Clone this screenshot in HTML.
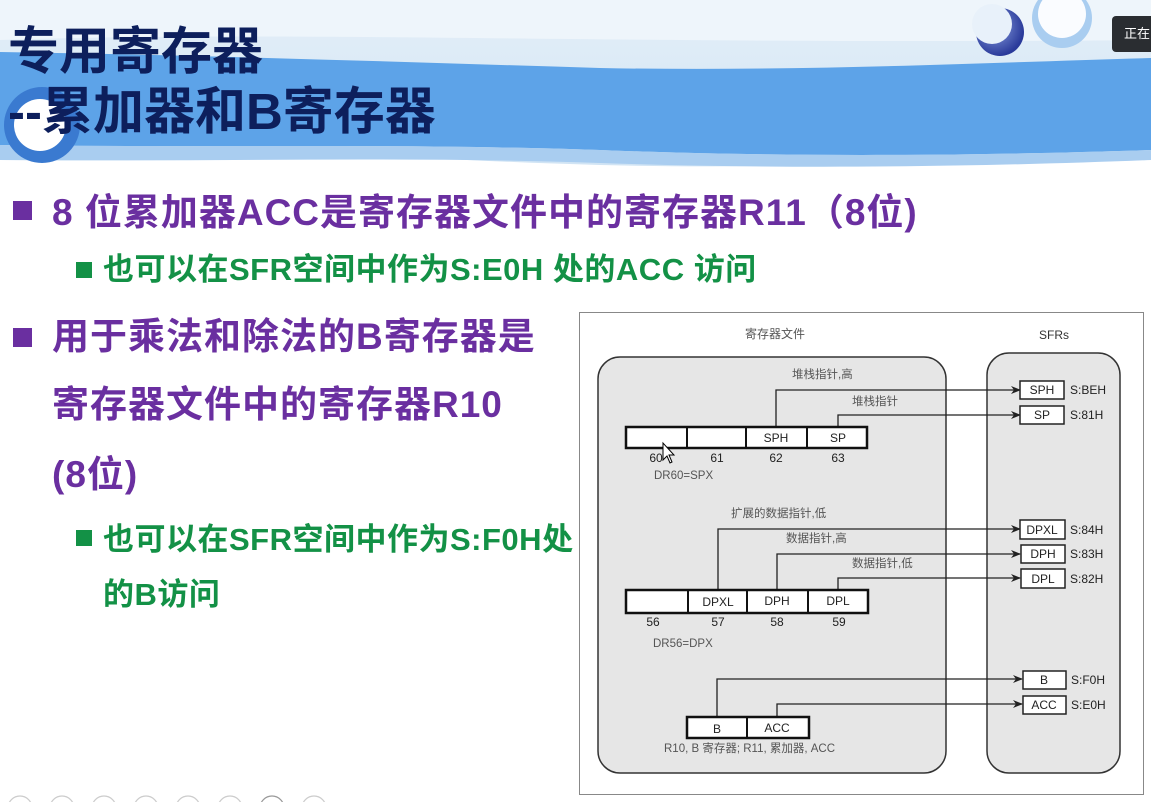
<!DOCTYPE html>
<html><head><meta charset="utf-8"><style>
body{margin:0;width:1151px;height:802px;overflow:hidden;background:#fff;position:relative;font-family:"Liberation Sans","Noto Sans CJK SC",sans-serif}
.t{position:absolute;white-space:nowrap;font-weight:bold}
.p{color:#6a2fa0;font-size:37px;line-height:44px;letter-spacing:1px}
.g{color:#139146;font-size:31px;line-height:36px;letter-spacing:0.5px}
.sq{position:absolute;background:#6a2fa0}
.sg{position:absolute;background:#139146}
</style></head><body>
<svg width="1151" height="802" style="position:absolute;left:0;top:0">
<defs><linearGradient id="sky" x1="0" y1="0" x2="0" y2="1"><stop offset="0" stop-color="#e4eff8"/><stop offset="1" stop-color="#cfe3f4"/></linearGradient>
<radialGradient id="moon" cx="0.4" cy="0.4" r="0.6"><stop offset="0" stop-color="#8aa0e0"/><stop offset="1" stop-color="#2a3a9a"/></radialGradient></defs>
<rect x="0" y="0" width="1151" height="180" fill="url(#sky)"/>
<path d="M0,180 L0,150 C200,140 400,160 600,165 C800,170 1000,160 1151,150 L1151,180 Z" fill="#fff"/>
<path d="M0,52 C200,55 400,62 600,68 C800,72 1000,62 1151,58 L1151,150 C1000,155 800,158 600,150 C400,143 200,148 0,145 Z" fill="#5da3e8"/>
<path d="M0,145 C200,148 400,143 600,150 C800,158 1000,155 1151,150 L1151,160 C1000,166 800,170 600,163 C400,156 200,162 0,160 Z" fill="#a9cdf0"/>
<path d="M0,0 L0,40 C300,30 600,45 1151,40 L1151,0 Z" fill="#eef5fb"/>
<circle cx="42" cy="125" r="38" fill="#3a7ad0"/>
<circle cx="40" cy="125" r="26" fill="#ffffff"/>
<circle cx="1000" cy="32" r="24" fill="url(#moon)"/>
<circle cx="992" cy="24" r="20" fill="#e8f1fa"/>
<circle cx="1062" cy="18" r="30" fill="#a9cdf0"/>
<circle cx="1062" cy="14" r="24" fill="#fafcff"/>
<g fill="none" stroke="#ccc" stroke-width="1.2">
<circle cx="20" cy="808" r="12"/><circle cx="62" cy="808" r="12"/><circle cx="104" cy="808" r="12"/><circle cx="146" cy="808" r="12"/><circle cx="188" cy="808" r="12"/><circle cx="230" cy="808" r="12"/><circle cx="272" cy="808" r="12" stroke="#999"/><circle cx="314" cy="808" r="12"/>
</g>
</svg>
<div style="position:absolute;left:1112px;top:16px;width:45px;height:36px;background:#2a2d31;border-radius:4px;color:#fff;font-size:13px;line-height:36px;padding-left:12px">正在</div>
<div class="t" style="left:8px;top:22px;font-size:51px;color:#0d1f5c;line-height:60px">专用寄存器</div>
<div class="t" style="left:8px;top:82px;font-size:51px;color:#0d1f5c;line-height:60px">--累加器和B寄存器</div>

<div class="sq" style="left:13px;top:201px;width:19px;height:19px"></div>
<div class="t p" style="left:52px;top:191px">8 位累加器ACC是寄存器文件中的寄存器R11（8位)</div>
<div class="sg" style="left:76px;top:262px;width:16px;height:16px"></div>
<div class="t g" style="left:103px;top:252px">也可以在SFR空间中作为S:E0H 处的ACC 访问</div>
<div class="sq" style="left:13px;top:328px;width:19px;height:19px"></div>
<div class="t p" style="left:52px;top:315px">用于乘法和除法的B寄存器是</div>
<div class="t p" style="left:52px;top:383px">寄存器文件中的寄存器R10</div>
<div class="t p" style="left:52px;top:453px">(8位)</div>
<div class="sg" style="left:76px;top:530px;width:16px;height:16px"></div>
<div class="t g" style="left:103px;top:522px">也可以在SFR空间中作为S:F0H处</div>
<div class="t g" style="left:103px;top:577px">的B访问</div>

<svg width="1151" height="802" style="position:absolute;left:0;top:0" font-family="Liberation Sans, Noto Sans CJK SC, sans-serif">
<defs><marker id="a" markerWidth="10" markerHeight="8" refX="9" refY="4" orient="auto" markerUnits="userSpaceOnUse"><path d="M0,0 L10,4 L0,8 L3,4 Z" fill="#222"/></marker></defs>
<rect x="579.5" y="312.5" width="564" height="482" fill="#fff" stroke="#888"/>
<rect x="598" y="357" width="348" height="416" rx="22" fill="#e6e6e6" stroke="#333" stroke-width="1.5"/>
<rect x="987" y="353" width="133" height="420" rx="22" fill="#e6e6e6" stroke="#333" stroke-width="1.5"/>
<g font-size="12" fill="#555" text-anchor="middle"><text x="775" y="338">寄存器文件</text><text x="1054" y="339" fill="#333">SFRs</text></g>
<g fill="none" stroke="#222" stroke-width="1.3">
<path d="M776,427 V390 H1020" marker-end="url(#a)"/>
<path d="M838,427 V415 H1020" marker-end="url(#a)"/>
<path d="M718,590 V529 H1020" marker-end="url(#a)"/>
<path d="M777,590 V554 H1020" marker-end="url(#a)"/>
<path d="M838,590 V578 H1020" marker-end="url(#a)"/>
<path d="M717,717 V679 H1022" marker-end="url(#a)"/>
<path d="M777,717 V704 H1022" marker-end="url(#a)"/>
</g>
<g fill="#fff" stroke="#111" stroke-width="2.5">
<rect x="626" y="427" width="241" height="21"/><rect x="626" y="590" width="242" height="23"/><rect x="687" y="717" width="122" height="21"/>
</g>
<g stroke="#111" stroke-width="2"><path d="M687,427V448M746,427V448M807,427V448M688,590V613M747,590V613M808,590V613M747,717V738"/></g>
<g fill="#fff" stroke="#222" stroke-width="1.5">
<rect x="1020" y="381" width="44" height="18"/><rect x="1020" y="406" width="44" height="18"/>
<rect x="1020" y="520" width="45" height="19"/><rect x="1021" y="545" width="44" height="18"/><rect x="1021" y="569" width="44" height="19"/>
<rect x="1023" y="671" width="43" height="18"/><rect x="1023" y="696" width="43" height="18"/>
</g>
<g font-size="12" fill="#222" text-anchor="middle">
<text x="776" y="442">SPH</text><text x="838" y="442">SP</text>
<text x="656" y="462">60</text><text x="717" y="462">61</text><text x="776" y="462">62</text><text x="838" y="462">63</text>
<text x="718" y="606">DPXL</text><text x="777" y="605">DPH</text><text x="838" y="605">DPL</text>
<text x="653" y="626">56</text><text x="718" y="626">57</text><text x="777" y="626">58</text><text x="839" y="626">59</text>
<text x="717" y="733">B</text><text x="777" y="732">ACC</text>
<text x="1042" y="394">SPH</text><text x="1042" y="419">SP</text>
<text x="1042" y="534">DPXL</text><text x="1043" y="558">DPH</text><text x="1043" y="583">DPL</text>
<text x="1044" y="684">B</text><text x="1044" y="709">ACC</text>
</g>
<g font-size="12" fill="#222">
<text x="1070" y="394">S:BEH</text><text x="1070" y="419">S:81H</text><text x="1070" y="534">S:84H</text><text x="1070" y="558">S:83H</text><text x="1070" y="583">S:82H</text><text x="1071" y="684">S:F0H</text><text x="1071" y="709">S:E0H</text>
</g>
<g font-size="11.5" fill="#555">
<text x="792" y="378">堆栈指针,高</text><text x="852" y="405">堆栈指针</text>
<text x="654" y="479">DR60=SPX</text>
<text x="731" y="517">扩展的数据指针,低</text><text x="786" y="542">数据指针,高</text><text x="852" y="567">数据指针,低</text>
<text x="653" y="647">DR56=DPX</text>
<text x="664" y="752">R10, B 寄存器;  R11, 累加器, ACC</text>
</g>
<path d="M663,443 L663,460 L667,456 L670,463 L672,462 L669,455 L674,455 Z" fill="#fff" stroke="#000" stroke-width="1"/>
</svg>
</body></html>
